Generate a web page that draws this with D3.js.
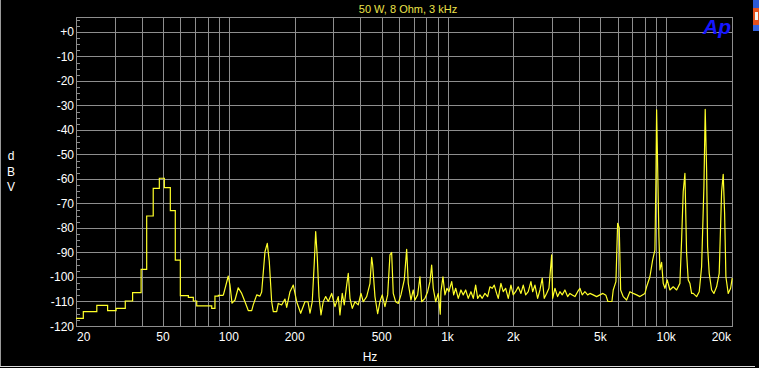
<!DOCTYPE html>
<html>
<head>
<meta charset="utf-8">
<script src="https://cdn.jsdelivr.net/npm/d3@7"></script>
<style>
  body { margin: 0; background: #000; }
  svg { display: block; font-family: "Liberation Sans", Arial, sans-serif; }
</style>
</head>
<body>
<div id="chart"></div>
<script>
// low end of the FFT: coarse bins, drawn as steps (edge in Hz, level in dBV)
const lowEdgesHz = [20, 21.6, 24.9, 27.9, 30.5, 33.6, 36.3, 39.7, 42.1, 45.1, 48.1, 50.7, 54.0, 56.9, 60.0, 65.3, 68.8, 71.3, 83.5, 86.4, 89.5, 94.3];
const lowLevelsDb = [-116.9, -114.1, -111.6, -113.7, -112.8, -109.8, -106.4, -96.9, -75.1, -63.8, -59.7, -63.5, -72.9, -93.1, -107.6, -108.3, -109.8, -111.8, -112.8, -107.8, -107.5];

// rest of the trace
const traceHz = [94.3, 99.4, 101.2, 103.4, 106.7, 110.4, 114.5, 118.5, 122.7, 127.2, 129.3, 134.1, 138.8, 141.3, 146.3, 149.9, 153.1, 157.0, 159.7, 165.5,
  168.3, 174.4, 180.6, 183.9, 190.4, 197.1, 204.3, 213.1, 222.9, 230.1, 235.0, 240.7, 245.8, 249.5, 253.7, 258.4, 263.9, 270.3, 277.3, 285.0,
  295.4, 305.8, 316.5, 322.2, 330.1, 337.1, 345.8, 351.7, 358.1, 366.9, 377.5, 390.7, 402.0, 411.9, 426.9, 441.9, 449.9, 454.7, 465.8, 479.3,
  491.0, 503.0, 517.5, 532.5, 545.5, 555.3, 564.8, 579.3, 595.4, 612.6, 634.2, 650.4, 661.4, 680.4, 697.2, 709.8, 730.3, 748.2, 761.7, 788.6,
  811.3, 831.2, 846.3, 860.7, 882.7, 907.2, 926.4, 933.3, 953.2, 973.4, 994.3, 1015, 1045, 1067, 1090, 1120, 1152, 1180, 1211, 1244,
  1280, 1312, 1345, 1374, 1407, 1441, 1483, 1526, 1563, 1602, 1636, 1677, 1706, 1755, 1798, 1844, 1896, 1950, 1998, 2049,
  2106, 2167, 2220, 2277, 2340, 2407, 2451, 2511, 2583, 2647, 2712, 2769, 2840, 2910, 2994, 3025, 3099, 3188, 3267, 3347,
  3443, 3543, 3630, 3718, 3825, 3936, 4032, 4131, 4250, 4373, 4480, 4638, 4808, 4977, 5137, 5302, 5415, 5648, 5727, 5891,
  5998, 6100, 6191, 6362, 6593, 6826, 7068, 7325, 7584, 7994, 8139, 8426, 8670, 8882, 8976, 9042, 9138, 9264, 9363, 9532,
  9694, 9869, 10111, 10402, 10770, 11162, 11556, 11765, 11965, 12182, 12400, 12612, 12840, 13071, 13293, 13779, 14160, 14523, 14880, 15084,
  15308, 15469, 15732, 16135, 16530, 17006, 17479, 17928, 18232, 18503, 18756, 19217, 19708, 20044];
const traceDb = [-107.5, -99.6, -103.3, -110.7, -109.4, -104.4, -106.7, -110.1, -113.7, -113.7, -111.4, -107.3, -107.8, -106.1, -89.7, -86.3, -93.7, -110.1, -114.1, -114.1,
  -110.8, -111.4, -109, -112.4, -106, -103.3, -110.1, -114.8, -110.1, -110.1, -114.8, -110.1, -94.4, -81.5, -91.7, -108, -115.5, -110, -108, -110,
  -106.7, -112.1, -108, -115.5, -106.7, -111.4, -103.3, -98.5, -108.7, -112.8, -110.1, -111.4, -106.7, -110.1, -108, -102.7, -92, -95, -108, -115,
  -110, -107.3, -112.1, -107.3, -91, -90, -106.7, -110.1, -110.8, -107.3, -101.2, -88.7, -102.6, -109.4, -105.3, -109.4, -107.3, -99.9, -110.1, -108.7,
  -106, -101.9, -95.1, -104.6, -110.1, -106.7, -115.2, -106, -99.9, -107.3, -104.6, -106, -101.9, -107.3, -104.6, -108.7, -105.3, -107.3, -105.3, -108.7,
  -106, -108.7, -103.3, -108.7, -107.3, -108.7, -106.7, -108, -104, -104.6, -103.3, -106.7, -108.7, -102.6, -106, -104.6, -108.7, -103.3, -107.3, -106,
  -104, -106.7, -103.3, -107.3, -106, -101.9, -106, -103.3, -108.7, -105.3, -100.5, -108.7, -106.7, -104.6, -91, -108.7, -104.6, -108, -106, -107.3,
  -105.3, -108, -106.7, -107.3, -108, -106, -104.6, -107.3, -106, -107.3, -106.7, -107.3, -108, -107.3, -106.7, -107.5, -110, -110, -105.3, -101.9,
  -78.1, -79.9, -105.3, -108, -109.4, -106, -106.7, -107.3, -108, -106.7, -104, -99.9, -93.1, -89, -60.4, -31.8, -54.3, -83.5, -97.1, -94,
  -102.6, -104.6, -101.2, -105.3, -104, -105.3, -102.6, -84.9, -65.2, -57.7, -90.3, -101.2, -102.6, -106.7, -106.7, -108, -106, -95.8, -63.1, -31.6,
  -56.3, -87.6, -98.5, -105.3, -106.7, -104, -98.5, -65.2, -58.1, -74, -99.9, -106.7, -104.6, -100.5];

const dbTicks = [0, -10, -20, -30, -40, -50, -60, -70, -80, -90, -100, -110, -120];
const hzTickValues = [20, 50, 100, 200, 500, 1000, 2000, 5000, 10000, 20000];
const hzTickLabels = ["20", "50", "100", "200", "500", "1k", "2k", "5k", "10k", "20k"];

const width = 759;
const height = 368;
const gridColor = "#8e8e8e";
const traceColor = "#ffff28";

const svg = d3.select("#chart")
  .append("svg")
  .attr("width", width)
  .attr("height", height)
  .style("background-color", "#000");

const x = d3.scaleLog().domain([20, 20000]).range([76, 732]);
const y = d3.scaleLinear().domain([-120, 6.1]).range([326, 17]);

// grid
svg.append("g")
  .selectAll("line")
  .data(x.ticks())
  .enter()
  .append("line")
  .attr("x1", d => Math.round(x(d)) + 0.5)
  .attr("x2", d => Math.round(x(d)) + 0.5)
  .attr("y1", y.range()[1])
  .attr("y2", y.range()[0])
  .attr("stroke", gridColor);

svg.append("g")
  .selectAll("line")
  .data(dbTicks)
  .enter()
  .append("line")
  .attr("x1", x.range()[0])
  .attr("x2", x.range()[1])
  .attr("y1", d => Math.round(y(d)) + 0.5)
  .attr("y2", d => Math.round(y(d)) + 0.5)
  .attr("stroke", gridColor);

// minor ticks every 2.5 dB on the left edge
svg.append("g")
  .selectAll("line")
  .data(d3.range(-117.5, 6, 2.5).filter(d => d % 10 !== 0))
  .enter()
  .append("line")
  .attr("x1", x.range()[0])
  .attr("x2", x.range()[0] + 4)
  .attr("y1", d => Math.round(y(d)) + 0.5)
  .attr("y2", d => Math.round(y(d)) + 0.5)
  .attr("stroke", gridColor);

svg.append("rect")
  .attr("x", x.range()[0] + 0.5)
  .attr("y", y.range()[1] + 0.5)
  .attr("width", x.range()[1] - x.range()[0])
  .attr("height", y.range()[0] - y.range()[1])
  .attr("fill", "none")
  .attr("stroke", gridColor);

// trace
const stepLine = d3.line()
  .x(d => x(d[0]))
  .y(d => y(d[1]))
  .curve(d3.curveStepAfter);

const lowPoints = lowEdgesHz.map((f, i) => [f, lowLevelsDb[Math.min(i, lowLevelsDb.length - 1)]]);

svg.append("path")
  .attr("d", stepLine(lowPoints))
  .attr("fill", "none")
  .attr("stroke", traceColor)
  .attr("stroke-width", 1.2);

const traceLine = d3.line()
  .x(d => x(d[0]))
  .y(d => y(d[1]));

svg.append("path")
  .attr("d", traceLine(traceHz.map((f, i) => [f, traceDb[i]])))
  .attr("fill", "none")
  .attr("stroke", traceColor)
  .attr("stroke-width", 1.2)
  .attr("stroke-linejoin", "round");

// y tick labels
svg.append("g")
  .selectAll("text")
  .data(dbTicks)
  .enter()
  .append("text")
  .attr("x", 74)
  .attr("y", d => y(d) + 4.5)
  .attr("text-anchor", "end")
  .attr("font-size", 12)
  .attr("fill", "#fff")
  .text(d => d === 0 ? "+0" : d);

// x tick labels
svg.append("g")
  .selectAll("text")
  .data(hzTickValues)
  .enter()
  .append("text")
  .attr("x", (d, i) => i === 0 ? x(d) + 1 : i === hzTickValues.length - 1 ? x(d) - 1 : x(d))
  .attr("y", 340.5)
  .attr("text-anchor", (d, i) => i === 0 ? "start" : i === hzTickValues.length - 1 ? "end" : "middle")
  .attr("font-size", 12)
  .attr("fill", "#fff")
  .text((d, i) => hzTickLabels[i]);

svg.append("text")
  .attr("x", 370)
  .attr("y", 361)
  .attr("text-anchor", "middle")
  .attr("font-size", 12)
  .attr("fill", "#fff")
  .text("Hz");

svg.append("g")
  .selectAll("text")
  .data(["d", "B", "V"])
  .enter()
  .append("text")
  .attr("x", 11)
  .attr("y", (d, i) => 160 + i * 15.5)
  .attr("text-anchor", "middle")
  .attr("font-size", 12)
  .attr("fill", "#fff")
  .text(d => d);

svg.append("text")
  .attr("x", 408)
  .attr("y", 13)
  .attr("text-anchor", "middle")
  .attr("font-size", 11)
  .attr("fill", "#ece24a")
  .text("50 W, 8 Ohm, 3 kHz");

svg.append("text")
  .attr("x", 703)
  .attr("y", 33.5)
  .attr("font-size", 21)
  .attr("font-weight", "bold")
  .attr("font-style", "italic")
  .attr("fill", "#1616ff")
  .text("Ap");

// window frame bits
svg.append("line")
  .attr("x1", 0.5).attr("x2", 0.5).attr("y1", 0).attr("y2", 366)
  .attr("stroke", "#9a9a9a");
svg.append("line")
  .attr("x1", 0).attr("x2", 755).attr("y1", 366.5).attr("y2", 366.5)
  .attr("stroke", "#dcdcdc");
svg.append("rect").attr("x", 753).attr("y", 0).attr("width", 6).attr("height", 8).attr("fill", "#2a5ad8");
svg.append("rect").attr("x", 753).attr("y", 8).attr("width", 6).attr("height", 17).attr("fill", "#e4501c");
svg.append("rect").attr("x", 755).attr("y", 12).attr("width", 3).attr("height", 8).attr("fill", "#f4f4f4");
svg.append("rect").attr("x", 753).attr("y", 25).attr("width", 6).attr("height", 6).attr("fill", "#3462e0");
</script>
</body>
</html>
